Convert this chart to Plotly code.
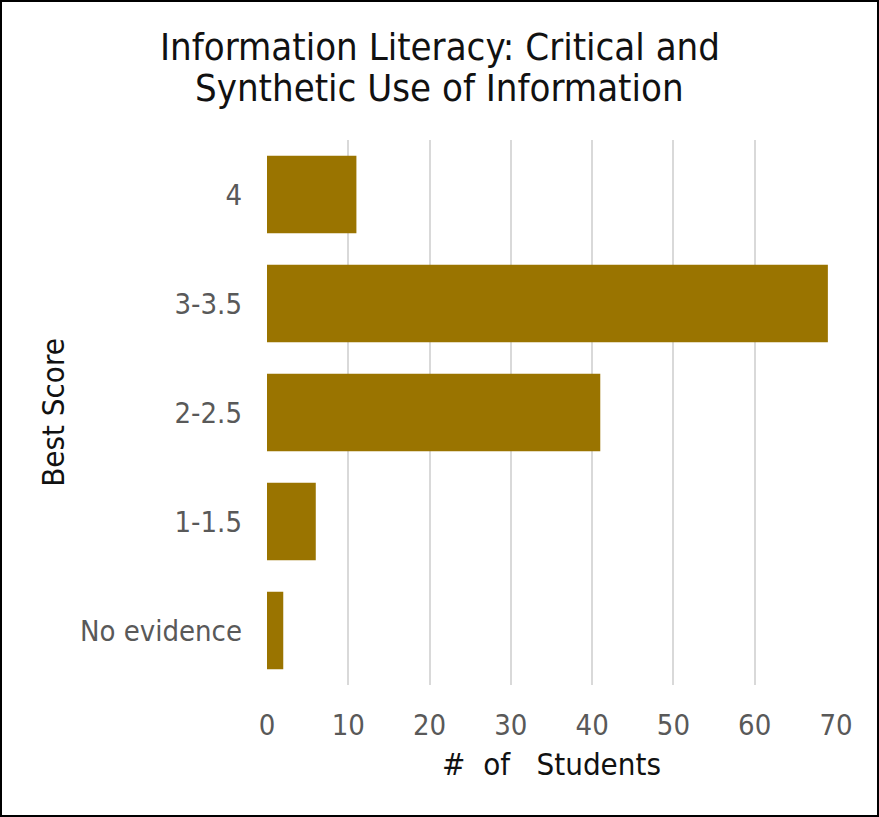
import plotly.graph_objects as go

categories = ["No evidence", "1-1.5", "2-2.5", "3-3.5", "4"]
students = [2, 6, 41, 69, 11]
x_ticks = [0, 10, 20, 30, 40, 50, 60, 70]
title_lines = ["Information Literacy: Critical and", "Synthetic Use of Information"]

W, H = 879, 817
L, R, T, B = 267, 43, 140, 132
pw, ph = W - L - R, H - T - B

FONT = "Liberation Sans Narrow, Arial Narrow, DejaVu Sans Condensed, sans-serif"


def py(pix):
    # page pixel y (from top) -> paper y
    return (H - B - pix) / ph


fig = go.Figure(go.Bar(
    y=categories, x=students, orientation="h",
    marker=dict(color="#9A7400", line=dict(width=0)),
))

annotations = [
    dict(text=t, xref="paper", yref="paper", x=0.5 - (L - R) / 2 / pw * 0 + ((W / 2) - L - pw / 2) / pw,
         y=py(yc), xanchor="center", yanchor="middle", showarrow=False,
         font=dict(family=FONT, size=38, color="#111111"))
    for t, yc in zip(title_lines, [47, 88])
]

fig.update_layout(
    width=W, height=H,
    margin=dict(l=L, r=R, t=T, b=B),
    paper_bgcolor="white", plot_bgcolor="white",
    bargap=0.29,
    showlegend=False,
    font=dict(family=FONT),
    annotations=annotations,
    xaxis=dict(
        range=[0, 70], tickvals=x_ticks, showgrid=True, gridcolor="#d9d9d9", gridwidth=1.5,
        zeroline=False, showline=False, ticks="",
        ticklabelstandoff=20,
        tickfont=dict(size=29, color="#595959"),
        title=dict(text="#\u00a0\u00a0of\u00a0\u00a0\u00a0Students", font=dict(size=31, color="#111111"), standoff=12),
    ),
    yaxis=dict(
        showgrid=False, zeroline=False, showline=False, ticks="",
        ticklabelstandoff=24,
        tickfont=dict(size=29, color="#595959"),
        title=dict(text="Best Score", font=dict(size=31, color="#111111"), standoff=6),
    ),
    shapes=[dict(
        type="rect", xref="paper", yref="paper",
        x0=-(L - 1) / pw, x1=1 + (R - 1) / pw,
        y0=-(B - 1) / ph, y1=1 + (T - 1) / ph,
        line=dict(color="black", width=2), fillcolor="rgba(0,0,0,0)", layer="above",
    )],
)

fig.write_html("out.html")
